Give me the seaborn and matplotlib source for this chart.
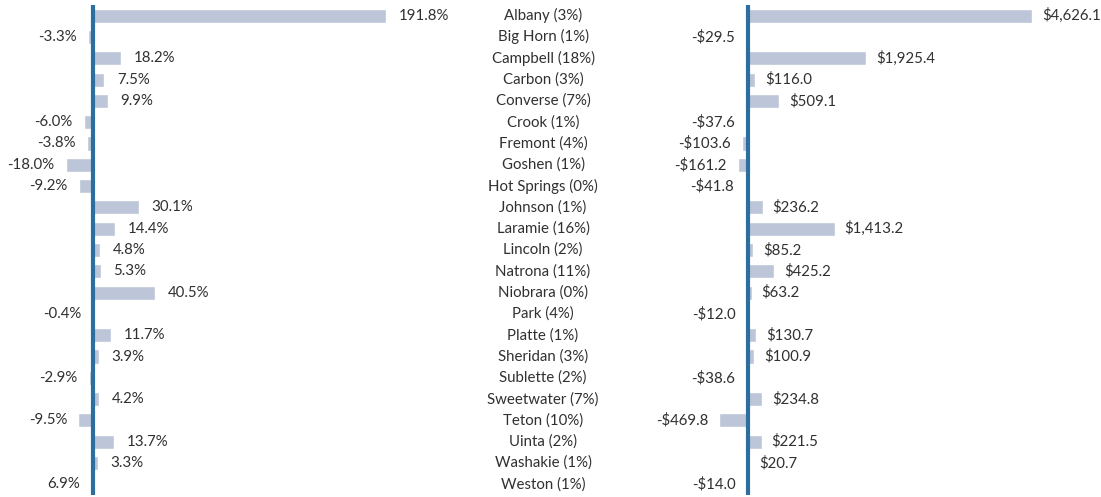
import matplotlib
matplotlib.use("Agg")
import matplotlib.pyplot as plt
import seaborn as sns
import pandas as pd

counties = ["Albany", "Big Horn", "Campbell", "Carbon", "Converse", "Crook", "Fremont",
            "Goshen", "Hot Springs", "Johnson", "Laramie", "Lincoln", "Natrona", "Niobrara",
            "Park", "Platte", "Sheridan", "Sublette", "Sweetwater", "Teton", "Uinta",
            "Washakie", "Weston"]
shares = [3, 1, 18, 3, 7, 1, 4, 1, 0, 1, 16, 2, 11, 0, 4, 1, 3, 2, 7, 10, 2, 1, 1]
pct_change = [191.8, -3.3, 18.2, 7.5, 9.9, -6.0, -3.8, -18.0, -9.2, 30.1, 14.4, 4.8, 5.3,
              40.5, -0.4, 11.7, 3.9, -2.9, 4.2, -9.5, 13.7, 3.3, -1.5]
pct_labels = ["191.8%", "-3.3%", "18.2%", "7.5%", "9.9%", "-6.0%", "-3.8%", "-18.0%",
              "-9.2%", "30.1%", "14.4%", "4.8%", "5.3%", "40.5%", "-0.4%", "11.7%", "3.9%",
              "-2.9%", "4.2%", "-9.5%", "13.7%", "3.3%", "6.9%"]
dollar_change = [4626.1, -29.5, 1925.4, 116.0, 509.1, -37.6, -103.6, -161.2, -41.8, 236.2,
                 1413.2, 85.2, 425.2, 63.2, -12.0, 130.7, 100.9, -38.6, 234.8, -469.8,
                 221.5, 20.7, -14.0]
dollar_labels = ["$4,626.1", "-$29.5", "$1,925.4", "$116.0", "$509.1", "-$37.6", "-$103.6",
                 "-$161.2", "-$41.8", "$236.2", "$1,413.2", "$85.2", "$425.2", "$63.2",
                 "-$12.0", "$130.7", "$100.9", "-$38.6", "$234.8", "-$469.8", "$221.5",
                 "$20.7", "-$14.0"]

row_labels = [f"{c} ({s}%)" for c, s in zip(counties, shares)]
df = pd.DataFrame({"county": row_labels, "pct": pct_change, "dollar": dollar_change})

sns.set_theme(style="white")
plt.rcParams["font.family"] = ["Lato", "DejaVu Sans"]

BAR = "#bcc6d8"
AXIS = "#2c6e9f"
TXT = "#303030"
FS = 10.8

W, H = 1101, 497
fig = plt.figure(figsize=(W / 100, H / 100), dpi=100)
bottom = 2 / H
height = 490 / H

ax1 = fig.add_axes([0 / W, bottom, 440 / W, height])
ax2 = fig.add_axes([640 / W, bottom, 461 / W, height])
axc = fig.add_axes([440 / W, bottom, 200 / W, height])

n = len(row_labels)

def panel(ax, col, labels, zero_px, left_px, width_px, scale_val, scale_px, pos_pad, neg_pad):
    sns.barplot(data=df, x=col, y="county", orient="h", color=BAR, width=0.66,
                saturation=1, ax=ax)
    s = scale_px / scale_val
    ax.set_xlim(-(zero_px - left_px) / s, (left_px + width_px - zero_px) / s)
    ax.set_ylim(n - 0.5, -0.5)
    ax.axvline(0, color=AXIS, lw=3, zorder=5)
    ax.set_axis_off()
    for i, (v, lab) in enumerate(zip(df[col], labels)):
        if v >= 0:
            ax.annotate(lab, (v, i), xytext=(pos_pad, 0), textcoords="offset points",
                        ha="left", va="center", fontsize=FS, color=TXT, annotation_clip=False)
        else:
            ax.annotate(lab, (v, i), xytext=(-neg_pad, 0), textcoords="offset points",
                        ha="right", va="center", fontsize=FS, color=TXT, annotation_clip=False)

panel(ax1, "pct", pct_labels, 93, 0, 440, 191.8, 293, 9, 8)
panel(ax2, "dollar", dollar_labels, 748, 640, 461, 4626.1, 284, 7, 8)

axc.set_xlim(0, 1)
axc.set_ylim(n - 0.5, -0.5)
axc.set_axis_off()
for i, lab in enumerate(row_labels):
    axc.text(0.515, i, lab, ha="center", va="center", fontsize=FS, color=TXT)

fig.savefig("out.png", dpi=100, facecolor="white")
